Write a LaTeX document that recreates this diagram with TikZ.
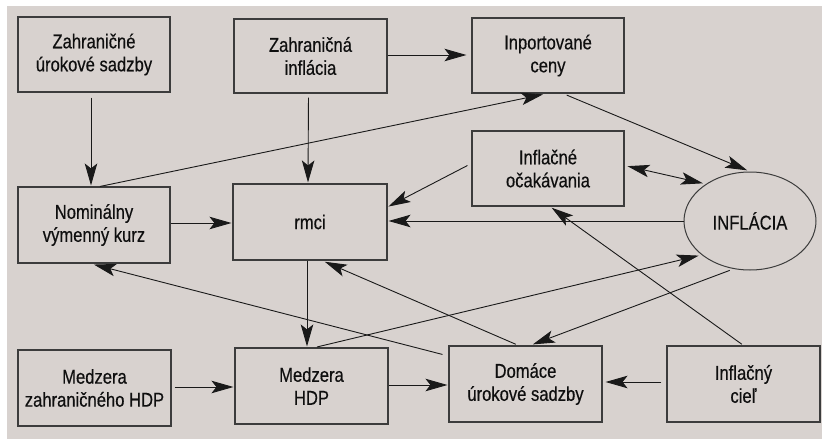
\documentclass[tikz,border=0pt]{standalone}
\usepackage{fontspec}
\setmainfont{Liberation Sans}[FakeStretch=0.83,FakeBold=0.4]
\usetikzlibrary{arrows.meta,calc,shapes.geometric}
\definecolor{bgc}{RGB}{216,210,207}
\definecolor{linec}{RGB}{25,25,25}
\definecolor{boxc}{RGB}{60,60,60}
\definecolor{txtc}{RGB}{15,15,15}
\begin{document}
\begin{tikzpicture}[x=1pt,y=-1pt,
  box/.style={draw=boxc,line width=1.1pt,minimum width=152pt,minimum height=75pt,inner sep=0pt,
    align=center,text=txtc,font=\fontsize{20}{23}\selectfont},
  ell/.style={ellipse,draw=boxc,line width=1pt,minimum width=132pt,minimum height=98pt,inner sep=0pt,
    text=txtc,font=\fontsize{20}{23}\selectfont},
  arr/.style={draw=linec,line width=0.9pt,-{Stealth[length=22pt,width=12.5pt,inset=5pt]}},
  darr/.style={draw=linec,line width=0.9pt,{Stealth[length=22pt,width=12.5pt,inset=5pt]}-{Stealth[length=22pt,width=12.5pt,inset=5pt]}}]
\useasboundingbox (0,0) rectangle (822,439);
\fill[white] (0,0) rectangle (822,439);
\fill[bgc] (7,6) rectangle (822,439);

\node[box] (zus) at (94,54.5) {Zahraničné\\úrokové sadzby};
\node[box,minimum width=153pt,minimum height=74pt] (zinf) at (310.5,56) {Zahraničná\\inflácia};
\node[box] (ic) at (548,55.5) {Inportované\\ceny};
\node[box] (io) at (548,168.5) {Inflačné\\očakávania};
\node[box,minimum height=76pt] (nom) at (94,225) {Nominálny\\výmenný kurz};
\node[box,minimum width=154pt,minimum height=76pt] (rmci) at (310,222) {rmci};
\node[ell] (inf) at (750,221) {INFLÁCIA};
\node[box,minimum width=153pt,minimum height=76pt] (mzh) at (94.5,388) {Medzera\\zahraničného HDP};
\node[box,minimum width=153pt,minimum height=76pt] (mh) at (311.5,386) {Medzera\\HDP};
\node[box,minimum width=153pt,minimum height=76pt] (dus) at (525.5,384) {Domáce\\úrokové sadzby};
\node[box,minimum width=153pt,minimum height=76pt] (cil) at (743.5,384) {Inflačný\\cieľ};

% connectors
\draw[arr,shorten <=5pt,shorten >=1pt] ($(zus.south)+(-3,0)$) -- ($(nom.north)+(-3,0)$);
\draw[arr,shorten <=4pt,shorten >=1pt] ($(zinf.south)+(-2,0)$) -- ($(rmci.north)+(-2,0)$);
\draw[arr,shorten >=5pt] ($(zinf.east)+(0,-1)$) -- ($(ic.west)+(0,-0.5)$);
\draw[arr,shorten >=4pt] ($(nom.north)+(6,0)$) -- ($(ic.south)+(-1,0)$);
\draw[arr,shorten <=4pt,shorten >=3pt] ($(ic.south)+(15,0)$) -- (inf.north);
\draw[darr,shorten <=3pt,shorten >=3pt] ($(io.east)+(0,-3)$) -- (inf.140);
\draw[arr,shorten >=1pt] ($(io.west)+(-4,-3)$) -- ($(rmci.east)+(0,-15)$);
\draw[arr,shorten >=1pt] (inf.west) -- (rmci.east |- inf.west);
\draw[arr,shorten >=1pt] ($(nom.east)+(0,-2)$) -- (rmci.west |- {$(nom.east)+(0,-2)$});
\draw[arr,shorten >=1pt] ($(rmci.south)+(-3,0)$) -- ($(rmci.south |- mh.north)+(-3,0)$);
\draw[arr,shorten <=3pt,shorten >=3pt] ($(dus.north)+(-7,0)$) -- ($(rmci.south)+(12,0)$);
\draw[arr,shorten >=4pt] ($(dus.north west)+(-6,9)$) -- ($(nom.south)+(-4,0)$);
\draw[arr,shorten <=2pt,shorten >=3pt] ($(mh.north)+(3.5,0)$) -- (inf.215);
\draw[arr,shorten <=4pt,shorten >=3pt] (inf.251) -- ($(dus.north)+(4.5,0)$);
\draw[arr,shorten <=2pt,shorten >=2pt] (cil.north) -- ($(io.south)+(2,0)$);
\draw[arr,shorten <=5pt,shorten >=3pt] ($(cil.west)+(0,-2)$) -- ($(dus.east)+(0,-2)$);
\draw[arr,shorten <=3pt,shorten >=1pt] ($(mzh.east)+(0,-1)$) -- (mh.west |- {$(mzh.east)+(0,-1)$});
\draw[arr,shorten >=1pt] ($(mh.east)+(0,-1)$) -- (dus.west |- {$(mh.east)+(0,-1)$});
\end{tikzpicture}
\end{document}
